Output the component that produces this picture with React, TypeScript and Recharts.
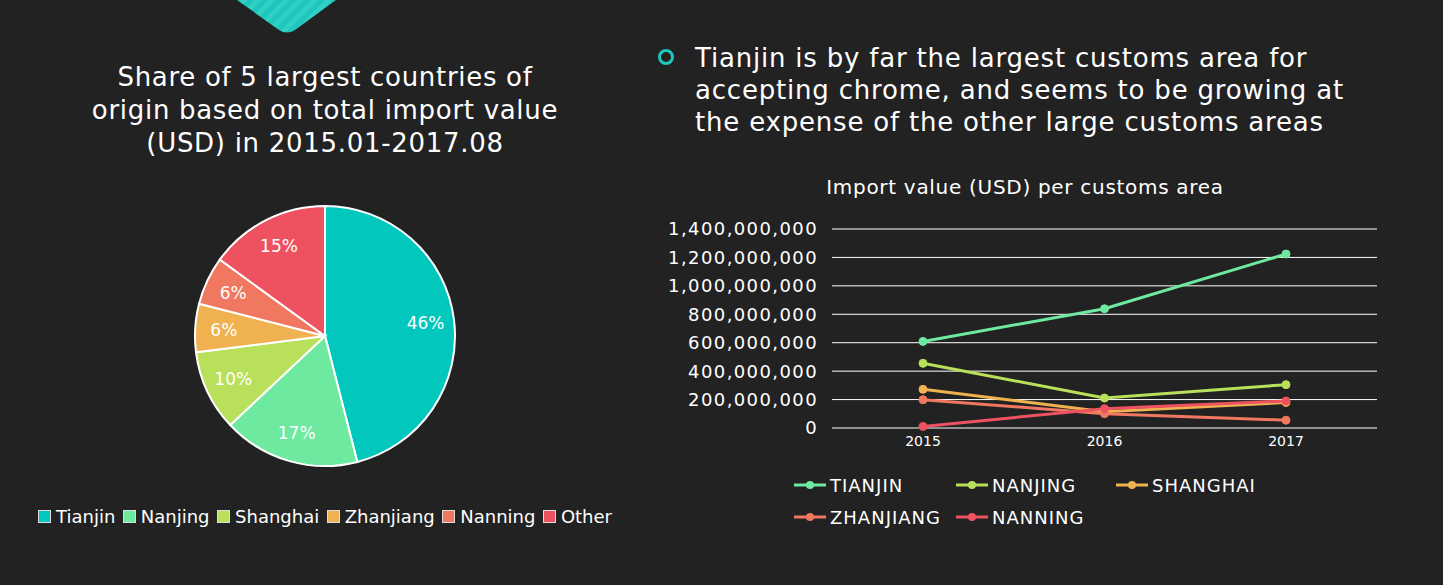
import { PieChart, Pie, Cell, Legend, LineChart, Line, XAxis, YAxis, CartesianGrid } from "recharts"

const pieNames = ["Tianjin", "Nanjing", "Shanghai", "Zhanjiang", "Nanning", "Other"]
const pieShares = [46, 17, 10, 6, 6, 15]
const pieColors = ["#02C7BD", "#6EE9A0", "#B8E05A", "#F0B250", "#F07860", "#EE5260"]

const years = ["2015", "2016", "2017"]
const areaNames = ["TIANJIN", "NANJING", "SHANGHAI", "ZHANJIANG", "NANNING"]
const areaColors = ["#6EE9A0", "#B8E05A", "#F0B250", "#F07860", "#EE5260"]
const tianjin = [609000000, 839000000, 1224000000]
const nanjing = [455000000, 211000000, 305000000]
const shanghai = [272000000, 115000000, 180000000]
const zhanjiang = [199000000, 101000000, 55000000]
const nanning = [11000000, 136000000, 190000000]
const yTicks = [0, 200000000, 400000000, 600000000, 800000000, 1000000000, 1200000000, 1400000000]

const series = [tianjin, nanjing, shanghai, zhanjiang, nanning]
const pieData = pieNames.map((name, i) => ({ name, value: pieShares[i] }))
const lineData = years.map((year, i) => {
  const row: Record<string, string | number> = { year }
  areaNames.forEach((n, k) => { row[n] = series[k][i] })
  return row
})

const FONT = "'DejaVu Sans', sans-serif"
const BG = "#222222"

const RADIAN = Math.PI / 180
function pieLabel(props: any) {
  const { cx, cy, midAngle, outerRadius, value } = props
  const r = outerRadius * 0.78
  const x = cx + r * Math.cos(-midAngle * RADIAN)
  const y = cy + r * Math.sin(-midAngle * RADIAN)
  return (
    <text x={x} y={y} fill="#fff" fontSize={17} fontFamily={FONT} textAnchor="middle" dominantBaseline="central">
      {value}%
    </text>
  )
}

function PieLegend() {
  return (
    <div style={{ display: "flex", alignItems: "center", whiteSpace: "nowrap", fontFamily: FONT, fontSize: 18, color: "#fff" }}>
      {pieNames.map((n, i) => (
        <span key={n} style={{ display: "inline-flex", alignItems: "center", marginRight: 7.5 }}>
          <span style={{ width: 11, height: 11, background: pieColors[i], border: "1px solid #ddd", marginRight: 5 }} />
          {n}
        </span>
      ))}
    </div>
  )
}

function LineLegend() {
  return (
    <div style={{ display: "grid", gridTemplateColumns: "162px 160px 160px", rowGap: 8, fontFamily: FONT, fontSize: 18, letterSpacing: 1, color: "#fff" }}>
      {areaNames.map((n, i) => (
        <div key={n} style={{ display: "flex", alignItems: "center", height: 24 }}>
          <svg width={34} height={12} style={{ marginRight: 3 }}>
            <line x1={1} y1={6} x2={33} y2={6} stroke={areaColors[i]} strokeWidth={3} />
            <circle cx={17} cy={6} r={4} fill={areaColors[i]} />
          </svg>
          {n}
        </div>
      ))}
    </div>
  )
}

export default function App() {
  return (
    <div style={{ position: "absolute", left: 0, top: 0, width: 1443, height: 585, background: BG, overflow: "hidden", fontFamily: FONT, color: "#fff" }}>
      <svg width={1443} height={40} style={{ position: "absolute", left: 0, top: 0 }}>
        <defs>
          <pattern id="stripes" width={10} height={10} patternUnits="userSpaceOnUse" patternTransform="rotate(45)">
            <rect width={10} height={10} fill="#1EC6BC" />
            <rect width={5} height={10} fill="#2FD0C6" />
          </pattern>
        </defs>
        <path d="M237 0 L279 30 Q287 35 295 30 L336 0 Z" fill="url(#stripes)" />
      </svg>

      <div style={{ position: "absolute", left: 45, top: 61, width: 560, textAlign: "center", fontSize: 26, lineHeight: "33px", letterSpacing: 0.7 }}>
        Share of 5 largest countries of<br />origin based on total import value<br />(USD) in 2015.01-2017.08
      </div>

      <div style={{ position: "absolute", left: 0, top: 0 }}>
        <PieChart width={650} height={585}>
          <Pie
            data={pieData}
            dataKey="value"
            nameKey="name"
            cx={320}
            cy={331}
            outerRadius={130}
            startAngle={90}
            endAngle={-270}
            stroke="#fff"
            strokeWidth={2}
            label={pieLabel}
            labelLine={false}
            isAnimationActive={false}
          >
            {pieData.map((d, i) => <Cell key={d.name} fill={pieColors[i]} />)}
          </Pie>
          <Legend layout="horizontal" verticalAlign="middle" align="center" content={<PieLegend />}
            wrapperStyle={{ top: 506, left: 38, width: 620 }} />
        </PieChart>
      </div>

      <div style={{ position: "absolute", left: 658, top: 49, width: 16, height: 16, borderRadius: "50%", border: "3px solid #1EC6BC", boxSizing: "border-box" }} />
      <div style={{ position: "absolute", left: 695, top: 42, width: 720, fontSize: 26, lineHeight: "32px", letterSpacing: 0.8 }}>
        Tianjin is by far the largest customs area for<br />accepting chrome, and seems to be growing at<br />the expense of the other large customs areas
      </div>

      <div style={{ position: "absolute", left: 725, top: 175, width: 600, textAlign: "center", fontSize: 20, letterSpacing: 0.7 }}>
        Import value (USD) per customs area
      </div>

      <div style={{ position: "absolute", left: 650, top: 170 }}>
        <LineChart width={740} height={370} data={lineData} margin={{ top: 59, right: 13, left: 0, bottom: 0 }}>
          <CartesianGrid vertical={false} stroke="#ffffff" strokeWidth={1} />
          <XAxis dataKey="year" axisLine={false} tickLine={false} height={112} padding={{ left: 91, right: 91 }}
            tick={{ fill: "#fff", fontSize: 14, fontFamily: FONT }} />
          <YAxis width={182} axisLine={false} tickLine={false} domain={[0, 1400000000]} ticks={yTicks} tickMargin={8}
            tickFormatter={(v: number) => v.toLocaleString("en-US")}
            tick={{ fill: "#fff", fontSize: 18, fontFamily: FONT, letterSpacing: 1.4 }} />
          {areaNames.map((n, i) => (
            <Line key={n} type="linear" dataKey={n} stroke={areaColors[i]} strokeWidth={3}
              dot={{ r: 4, fill: areaColors[i], stroke: areaColors[i], strokeWidth: 1 }} isAnimationActive={false} />
          ))}
          <Legend layout="horizontal" verticalAlign="middle" align="center" content={<LineLegend />}
            wrapperStyle={{ top: 303, left: 143, width: 500 }} />
        </LineChart>
      </div>
    </div>
  )
}
